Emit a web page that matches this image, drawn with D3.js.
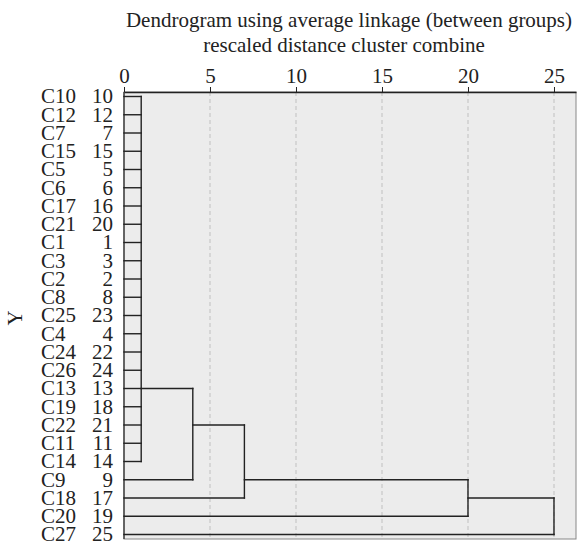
<!DOCTYPE html>
<html>
<head>
<meta charset="utf-8">
<script src="https://cdn.jsdelivr.net/npm/d3@7"></script>
<style>
  body { margin: 0; background: #fff; }
</style>
</head>
<body>
<div id="chart"></div>
<script>
// leaves, top to bottom as drawn
const leafLabels = ["C10","C12","C7","C15","C5","C6","C17","C21","C1","C3","C2","C8","C25",
	"C4","C24","C26","C13","C19","C22","C11","C14","C9","C18","C20","C27"];
const leafNumbers = [10,12,7,15,5,6,16,20,1,3,2,8,23,4,22,24,13,18,21,11,14,9,17,19,25];

// merges (rescaled distance) - children are leaves or earlier merges
const mergeNames = ["m1","m2","m3","m4","m5"];
const mergeHeights = [1, 4, 7, 20, 25];
const mergeChildren = [
	leafLabels.slice(0, 21),
	["m1","C9"],
	["m2","C18"],
	["m3","C20"],
	["m4","C27"]
];
// row where each merge's stem leaves (SPSS style)
const mergeStemRows = ["C13","C22","C9","C18","C18"];

const xTicks = [0,5,10,15,20,25];

const FONT = "'Liberation Serif', Tinos, 'Times New Roman', 'DejaVu Serif', serif";
const W = 577, H = 542;
const margin = {top: 92, right: 1, bottom: 3, left: 124};

const svg = d3.select("#chart").append("svg")
	.attr("width", W)
	.attr("height", H)
	.attr("font-family", FONT);

var x = d3.scaleLinear()
	.domain([0, 26.28])
	.range([margin.left, W - margin.right]);

var y = d3.scalePoint()
	.domain(leafLabels)
	.range([96.5, 534.5]);

// panel
svg.append("rect")
	.attr("x", x(0)).attr("y", margin.top)
	.attr("width", x.range()[1] - x(0))
	.attr("height", H - margin.bottom - margin.top)
	.attr("fill", "#ececec")
	.attr("stroke", "#888")
	.attr("stroke-width", 1);

// grid
svg.append("g")
	.selectAll("line")
	.data(xTicks.filter(d => d > 0))
	.enter().append("line")
	.attr("x1", d => x(d)).attr("x2", d => x(d))
	.attr("y1", margin.top).attr("y2", H - margin.bottom)
	.attr("stroke", "#cfcfcf")
	.attr("stroke-width", 1.5)
	.attr("stroke-dasharray", "4,3");

// left edge of panel is dark
svg.append("line")
	.attr("x1", x(0)).attr("x2", x(0))
	.attr("y1", margin.top).attr("y2", H - margin.bottom)
	.attr("stroke", "#333").attr("stroke-width", 1.3);

// top axis
var xAxis = d3.axisTop(x)
	.tickValues(xTicks)
	.tickSize(5)
	.tickSizeOuter(0);

var gx = svg.append("g")
	.attr("transform", "translate(0," + margin.top + ")")
	.call(xAxis)
	.attr("font-family", FONT)
	.attr("font-size", 21);
gx.select(".domain").attr("stroke", "#222").attr("stroke-width", 1.3);
gx.selectAll(".tick line").attr("stroke", "#222");
gx.selectAll(".tick text")
	.attr("dy", "-0.05em")
	.attr("fill", "#222");

// leaf labels
var gl = svg.append("g").attr("font-size", 21).attr("fill", "#222");
gl.selectAll(".lab")
	.data(leafLabels)
	.enter().append("text")
	.attr("class", "lab")
	.attr("x", 41)
	.attr("y", d => y(d))
	.attr("dy", "0.33em")
	.text(d => d);
gl.selectAll(".num")
	.data(leafNumbers)
	.enter().append("text")
	.attr("class", "num")
	.attr("x", 113)
	.attr("y", (d, i) => y(leafLabels[i]))
	.attr("dy", "0.33em")
	.attr("text-anchor", "end")
	.text(d => d);

// dendrogram links
var nodeY = {}, nodeH = {};
leafLabels.forEach(l => { nodeY[l] = y(l); nodeH[l] = 0; });

var links = [];
mergeNames.forEach((m, i) => {
	let h = mergeHeights[i];
	let kids = mergeChildren[i];
	let ys = kids.map(k => nodeY[k]);
	kids.forEach(k => {
		links.push([[x(nodeH[k]), nodeY[k]], [x(h), nodeY[k]]]);
	});
	links.push([[x(h), d3.min(ys)], [x(h), d3.max(ys)]]);
	nodeY[m] = y(mergeStemRows[i]);
	nodeH[m] = h;
});

svg.append("g")
	.selectAll("path")
	.data(links)
	.enter().append("path")
	.attr("d", d => d3.line()(d))
	.attr("fill", "none")
	.attr("stroke", "#222")
	.attr("stroke-width", 1.4)
	.attr("stroke-linecap", "square");

// titles
svg.append("text")
	.attr("x", 349).attr("y", 27)
	.attr("text-anchor", "middle")
	.attr("font-size", 21)
	.attr("fill", "#222")
	.text("Dendrogram using average linkage (between groups)");
svg.append("text")
	.attr("x", 344).attr("y", 52)
	.attr("text-anchor", "middle")
	.attr("font-size", 21)
	.attr("fill", "#222")
	.text("rescaled distance cluster combine");

// y label
svg.append("text")
	.attr("transform", "translate(22,318) rotate(-90)")
	.attr("text-anchor", "middle")
	.attr("font-size", 21)
	.attr("fill", "#222")
	.text("Y");
</script>
</body>
</html>
